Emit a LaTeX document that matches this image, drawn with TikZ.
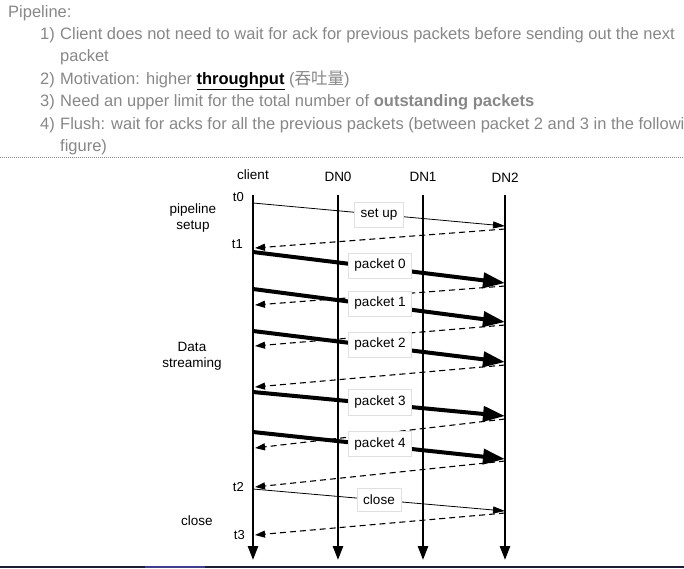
\documentclass[tikz,border=0pt]{standalone}
\usepackage{fontspec}
\setmainfont{Liberation Sans}
\newfontfamily\cjk{Noto Sans CJK SC}
\usetikzlibrary{arrows.meta,calc}

\definecolor{notegray}{RGB}{135,135,135}
\definecolor{barnavy}{RGB}{28,28,52}
\definecolor{barblue}{RGB}{62,62,140}

\tikzset{
  note/.style={anchor=base west, inner sep=0pt, text=notegray, font=\fontsize{16.5}{22}\selectfont},
  hdr/.style={font=\fontsize{13.5}{16}\selectfont, inner sep=0pt},
  side/.style={font=\fontsize{13.5}{16}\selectfont, align=center, inner sep=0pt},
  tick/.style={font=\fontsize{13}{16}\selectfont, anchor=east, inner sep=0pt},
  lifeline/.style={line width=2.6pt, -{Triangle[length=14pt,width=10pt]}},
  pkt/.style={line width=4pt, -{Triangle[length=22pt,width=15pt]}},
  ctrl/.style={line width=0.8pt, -{Triangle[length=12pt,width=7pt]}},
  ack/.style={line width=1.1pt, dash pattern=on 6pt off 4pt, -{Triangle[length=10pt,width=7pt]}},
  lbl/.style={fill=white, draw=black!12, font=\fontsize{13.5}{16}\selectfont, inner xsep=6pt, inner ysep=6.5pt}
}

\begin{document}
\begin{tikzpicture}[x=1pt,y=-1pt]
\useasboundingbox (0,0) rectangle (684,568);

% notes above the figure
\node[note] (title) at (8,17) {Pipeline:};
\node[note] (n1) at (40,39.5) {1)};
\node[note] (t1a) at (60,39.5) {Client does not need to wait for ack for previous packets before sending out the next};
\node[note] (t1b) at (60,61.5) {packet};
\node[note] (n2) at (40,84) {2)};
\node[note] (t2) at (60,84) {Motivation: higher \textcolor{black}{\underline{\textbf{throughput}}} ({\cjk 吞吐量})};
\node[note] (n3) at (40,106.5) {3)};
\node[note] (t3) at (60,106.5) {Need an upper limit for the total number of \textbf{outstanding packets}};
\node[note] (n4) at (40,129) {4)};
\node[note] (t4a) at (60,129) {Flush: wait for acks for all the previous packets (between packet 2 and 3 in the followi};
\node[note] (t4b) at (60,151.5) {figure)};
\draw[black!45, line width=0.6pt, dash pattern=on 1pt off 1pt] (0,157) -- (684,157);

% lifelines
\foreach \name/\x/\y in {client/253/175, DN0/338/177, DN1/423/177, DN2/505/178}{
  \node[hdr] (h\name) at (\x,\y) {\name};
  \coordinate (top\name) at (\x,195);
  \coordinate (bot\name) at (\x,560);
  \draw[lifeline] (top\name) -- (bot\name);
}

% side labels
\node[side] (lsetup) at (193,218) {pipeline\\setup};
\node[side] (lstream) at (192,356) {Data\\streaming};
\node[side] (lclose) at (197,521) {close};
\node[tick] (t0) at (244,197) {t0};
\node[tick] (t1) at (243,244) {t1};
\node[tick] (t2) at (244,487) {t2};
\node[tick] (t3) at (245,535) {t3};

% set up and close
\coordinate (sus) at (253,203);
\coordinate (sue) at (505,226);
\coordinate (cls) at (253,489);
\coordinate (cle) at (505,511);
\draw[ctrl] (sus) -- (sue);
\draw[ctrl] (cls) -- (cle);

% packets
\foreach \n/\ya/\yb in {0/252/283, 1/289/322, 2/331/362, 3/392/416, 4/432/459}{
  \coordinate (p\n s) at (253,\ya);
  \coordinate (p\n e) at (505,\yb);
  \draw[pkt] (p\n s) -- (p\n e);
}

% acks
\foreach \n/\ya/\yb in {0/229/248, 1/286/305, 2/325/346, 3/365/387, 4/419/448, 5/461/487, 6/513/535}{
  \coordinate (a\n s) at (505,\ya);
  \coordinate (a\n e) at (255,\yb);
  \draw[ack] (a\n s) -- (a\n e);
}

% message labels
\node[lbl] (lsu) at ($(sus)!0.5!(sue)$) {set up};
\node[lbl] (lcl) at ($(cls)!0.5!(cle)$) {close};
\foreach \n in {0,...,4}{
  \node[lbl] (lp\n) at ($(p\n s)!0.5!(p\n e)+(1,-2)$) {packet \n};
}

% bar at the bottom
\fill[barnavy] (0,565.5) rectangle (684,568);
\fill[barblue] (145,565.5) rectangle (205,568);
\end{tikzpicture}
\end{document}
